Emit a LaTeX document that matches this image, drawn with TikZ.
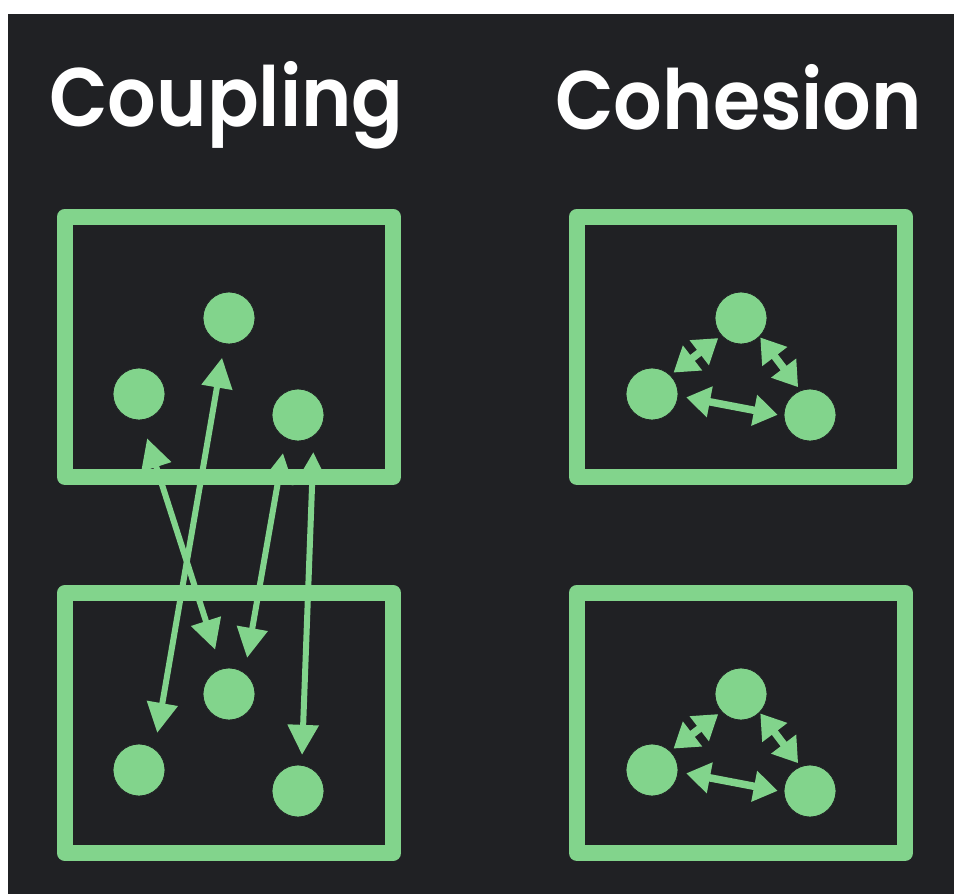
\documentclass[tikz,border=0pt]{standalone}
\usepackage{fontspec}
\newfontfamily\headfont{Poppins}[UprightFont=* SemiBold, FakeStretch=0.92]
\usetikzlibrary{arrows.meta}

\definecolor{leaf}{RGB}{130,212,140}
\definecolor{slate}{RGB}{32,33,36}

\tikzset{
  frame/.style={draw=leaf, line width=16pt, line join=round, inner sep=0pt,
    minimum width=328pt, minimum height=260.5pt},
  blob/.style={circle, fill=leaf, draw=slate, line width=0.8pt, inner sep=0pt,
    minimum size=52pt},
  heading/.style={text=white, anchor=base west, inner sep=0pt,
    font=\headfont\fontsize{83}{90}\selectfont},
  link/.style={leaf, line width=6pt,
    {Triangle[length=30pt,width=30pt]}-{Triangle[length=30pt,width=30pt]}},
  bond/.style={leaf, line width=7.5pt,
    {Triangle[length=24pt,width=30pt]}-{Triangle[length=24pt,width=30pt]}}
}

\begin{document}
\begin{tikzpicture}[x=1pt,y=-1pt]
\useasboundingbox (0,0) rectangle (954,894);

% page edge and dark panel
\fill[white] (0,0) rectangle (954,894);
\fill[slate] (8,14) rectangle (954,894);

% headings
\node[heading] (hcoupling) at (49,126) {Coupling};
\node[heading] (hcohesion) at (555,129) {Cohesion};

% Coupling: two modules
\node[frame] (cpa) at (229,346.75) {};
\node[frame] (cpb) at (229,723) {};

\node[blob] (cpa-l) at (139,394) {};
\node[blob] (cpa-t) at (229,318) {};
\node[blob] (cpa-r) at (298,415) {};

\node[blob] (cpb-l) at (139,770) {};
\node[blob] (cpb-t) at (229,694) {};
\node[blob] (cpb-r) at (298,791) {};

% links running between the modules
\draw[link, shorten <=16pt, shorten >=14pt] (cpb-l.54) -- (cpa-t.260);
\draw[link, shorten <=19pt, shorten >=20pt] (cpa-l.275) -- (cpb-t.107);
\draw[link, shorten <=15pt, shorten >=15pt] (cpa-r.242) -- (cpb-t.54);
\draw[link, shorten <=16pt, shorten >=10pt] (cpa-r.307) -- (cpb-r.82);

% Cohesion: same module twice, links kept inside
\foreach \dy/\p in {0/cha,376/chb}{
  \node[frame] (\p) at (741,346.75+\dy) {};
  \node[blob] (\p-l) at (652,394+\dy) {};
  \node[blob] (\p-t) at (741,318+\dy) {};
  \node[blob] (\p-r) at (810,415+\dy) {};
  \draw[bond, shorten <=4pt, shorten >=4pt] (\p-l.46) -- (\p-t.222);
  \draw[bond, shorten <=1pt, shorten >=4pt] (\p-t.315) -- (\p-r.111);
  \draw[bond, shorten <=8pt, shorten >=6pt] (\p-l.-4) -- (\p-r.182);
}

\end{tikzpicture}
\end{document}
